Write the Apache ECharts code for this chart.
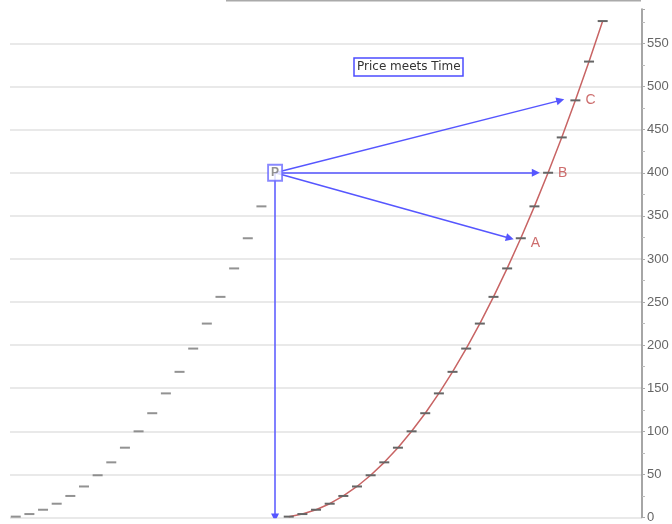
<!DOCTYPE html>
<html>
<head>
<meta charset="utf-8">
<script src="https://cdn.jsdelivr.net/npm/echarts@6/dist/echarts.min.js"></script>
<style>
html,body{margin:0;padding:0;background:#fff;}
#chart{width:672px;height:524px;}
</style>
</head>
<body>
<div id="chart"></div>
<script>
// price values (price meets time)
const priceValues = [1,4,9,16,25,36,49,64,81,100,121,144,169,196,225,256,289,324,361,400,441,484,529,576];
// left (earlier) copy of the series shows the first 19 values
const leftTimes = [0,1,2,3,4,5,6,7,8,9,10,11,12,13,14,15,16,17,18];
// right copy of the series
const rightTimes = [20,21,22,23,24,25,26,27,28,29,30,31,32,33,34,35,36,37,38,39,40,41,42,43];
// pivot P
const pivotTime = 19;
const pivotPrice = 400;
// targets A, B, C on the right curve
const targetNames = ['A','B','C'];
const targetTimes = [37,39,41];
const targetPrices = [324,400,484];
// arrow tips (time, price)
const arrowTipTimes = [36.2,38.1,39.9,19];
const arrowTipPrices = [324,400,484,0];
const yTicks = [0,50,100,150,200,250,300,350,400,450,500,550];
const titleText = 'Price meets Time';

const leftData = leftTimes.map((t,i)=>[t, priceValues[i]]);
const rightData = rightTimes.map((t,i)=>[t, priceValues[i]]);
const arrowData = arrowTipTimes.map((t,i)=>({coords:[[pivotTime,pivotPrice],[t,arrowTipPrices[i]]]}));
const labelData = targetNames.map((n,i)=>({name:n, value:[targetTimes[i], targetPrices[i]], label:{offset: n==='A'?[0,5]:[0,0]}}));

const chart = echarts.init(document.getElementById('chart'));
chart.setOption({
  animation:false,
  backgroundColor:'#fff',
  title:{
    text:titleText, left:354, top:58,
    padding:[3,3,3,3],
    borderColor:'#4c4cff', borderWidth:1.5,
    textStyle:{fontFamily:'DejaVu Sans', fontSize:12, fontWeight:'normal', color:'#333'}
  },
  grid:{left:10, right:30, top:9, bottom:4},
  xAxis:{type:'value', min:-0.42, max:45.88, show:false},
  yAxis:{
    type:'value', position:'right', min:0, max:590, interval:50,
    axisLine:{show:true, onZero:false, lineStyle:{color:'#888', width:1.5}},
    axisTick:{show:true, length:3, lineStyle:{color:'#aaa'}},
    minorTick:{show:true, splitNumber:2, length:3, lineStyle:{color:'#bbb'}},
    axisLabel:{color:'#666', fontSize:13, margin:5, showMaxLabel:false,
      formatter:(v)=> yTicks.indexOf(v)>=0 ? String(v) : ''},
    splitLine:{show:true, showMaxLine:false, lineStyle:{color:'#e2e2e2', width:1.5}}
  },
  graphic:[{type:'line', shape:{x1:226,y1:0.5,x2:641,y2:0.5}, style:{stroke:'#aaa', lineWidth:2}}],
  series:[
    {type:'scatter', data:leftData, symbol:'rect', symbolSize:[10,2], itemStyle:{color:'#777'}, silent:true, z:2},
    {type:'line', data:rightData, symbol:'rect', symbolSize:[10,2], showAllSymbol:true,
      itemStyle:{color:'#666'}, lineStyle:{color:'#c86464', width:1.5}, silent:true, z:2},
    {type:'lines', coordinateSystem:'cartesian2d', symbol:['none','triangle'], symbolSize:8,
      lineStyle:{color:'#5656ff', width:1.5, opacity:1}, data:arrowData, silent:true, z:3},
    {type:'scatter', data:[[pivotTime,pivotPrice]], symbol:'rect', symbolSize:[14,16],
      itemStyle:{color:'#fff', borderColor:'#6a6aff', borderWidth:2},
      label:{show:true, position:'inside', formatter:'P', color:'#777', fontSize:12, fontWeight:'bold'},
      silent:true, z:5},
    {type:'scatter', data:labelData, symbolSize:0,
      label:{show:true, position:'right', distance:10, formatter:(p)=>p.name, color:'#c04848', fontSize:14},
      silent:true, z:4}
  ]
});
</script>
</body>
</html>
